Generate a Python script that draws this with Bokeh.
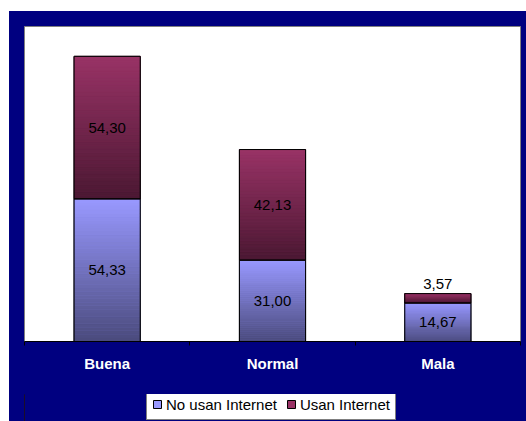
import numpy as np
from bokeh.plotting import figure
from bokeh.layouts import column, row
from bokeh.models import Range1d, FixedTicker, Legend, LegendItem, ColumnDataSource, Spacer
from bokeh.core.properties import value
from bokeh.embed import file_html
from bokeh.resources import INLINE

# ---- data ----
categories = ["Buena", "Normal", "Mala"]
no_usan = [54.33, 31.00, 14.67]
usan = [54.30, 42.13, 3.57]
series_names = ["No usan Internet", "Usan Internet"]
series_colors = ["#9999ff", "#993366"]
series_dark = ["#4a4a7c", "#4a1832"]
y_max = 120

FONT = "Liberation Sans"
NAVY = "#000080"
BAR_W = 0.4

p = figure(width=517, height=383, output_backend="svg", toolbar_location=None,
           x_range=Range1d(0, len(categories)), y_range=Range1d(0, y_max),
           y_axis_location=None,
           min_border_left=15, min_border_right=6, min_border_top=15, min_border_bottom=53)
p.border_fill_color = NAVY
p.background_fill_color = "white"
p.outline_line_color = "#808080"
p.outline_line_width = 1
p.grid.visible = False
p.styles = {"background-color": NAVY}

xs = [i + 0.5 for i in range(len(categories))]
src = ColumnDataSource(dict(x=xs, no_usan=no_usan, usan=usan))

# base bars
p.vbar_stack(["no_usan", "usan"], x="x", width=BAR_W, source=src,
             fill_color=series_colors, line_color="black")


def hex2rgb(h):
    h = h.lstrip("#")
    return np.array([int(h[i:i + 2], 16) for i in (0, 2, 4)], dtype=float)


def rgb2hex(c):
    return "#%02x%02x%02x" % tuple(int(round(v)) for v in c)


# gradient slices (each stacked segment shades from its colour at the top to dark at the bottom)
N = 40
L, R, B, T, C = [], [], [], [], []
series = [no_usan, usan]
for i, xc in enumerate(xs):
    bottom = 0.0
    for s, vals in enumerate(series):
        top = bottom + vals[i]
        c_top = hex2rgb(series_colors[s])
        c_bot = hex2rgb(series_dark[s])
        for k in range(N):
            y0 = bottom + (top - bottom) * k / N
            y1 = bottom + (top - bottom) * (k + 1) / N
            f = (k + 0.5) / N
            col = c_bot + (c_top - c_bot) * f
            L.append(xc - BAR_W / 2)
            R.append(xc + BAR_W / 2)
            B.append(y0)
            T.append(y1)
            C.append(rgb2hex(col))
        bottom = top
p.quad(left=L, right=R, bottom=B, top=T, fill_color=C, line_color=C, line_width=0.6)

# outlines on top
p.vbar_stack(["no_usan", "usan"], x="x", width=BAR_W, source=src,
             fill_alpha=0, line_color="black", line_width=1)

# data labels
lx, ly, lt, loff = [], [], [], []
for i, xc in enumerate(xs):
    bottom = 0.0
    for s, vals in enumerate(series):
        v = vals[i]
        top = bottom + v
        txt = f"{v:.2f}".replace(".", ",")
        if v < 6:
            lx.append(xc); ly.append(top); loff.append(-10)
        else:
            lx.append(xc); ly.append((bottom + top) / 2); loff.append(0)
        lt.append(txt)
        bottom = top
lsrc = ColumnDataSource(dict(x=lx, y=ly, t=lt, off=loff))
p.text(x="x", y="y", text="t", y_offset="off", source=lsrc,
       text_align="center", text_baseline="middle",
       text_font=value(FONT), text_font_size="15px", text_color="black")

# x axis: ticks at category boundaries, labels at centres
ax = p.xaxis[0]
ax.ticker = FixedTicker(ticks=xs, minor_ticks=list(range(len(categories) + 1)))
ax.major_label_overrides = {x: c for x, c in zip(xs, categories)}
ax.major_tick_line_color = None
ax.major_tick_out = 0
ax.major_tick_in = 0
ax.minor_tick_line_color = "black"
ax.minor_tick_out = 4
ax.minor_tick_in = 0
ax.axis_line_color = "black"
ax.major_label_standoff = 9
ax.major_label_text_font = FONT
ax.major_label_text_font_style = "bold"
ax.major_label_text_font_size = "15px"
ax.major_label_text_color = "white"

# legend strip
lg = figure(width=517, height=27, output_backend="svg", toolbar_location=None,
            x_range=Range1d(0, 1), y_range=Range1d(0, 1),
            x_axis_location=None, y_axis_location=None,
            min_border_left=0, min_border_right=0, min_border_top=0, min_border_bottom=0)
lg.border_fill_color = None
lg.background_fill_color = None
lg.outline_line_color = None
lg.grid.visible = False
lg.styles = {"background-color": NAVY}
# legend-key renderers: one point each, placed outside the visible range
leg_r = [lg.vbar(x=[-5], top=[1], width=0.1, fill_color=series_colors[j], line_color="black")
         for j in range(2)]
legend = Legend(items=[LegendItem(label=series_names[j], renderers=[leg_r[j]]) for j in range(2)],
                location=(122, 1), orientation="horizontal",
                background_fill_color="white", background_fill_alpha=1,
                border_line_color="black", border_line_width=1,
                label_text_font=FONT, label_text_font_size="15px", label_text_color="black",
                glyph_width=10, glyph_height=10, label_standoff=4, spacing=9,
                padding=5, margin=0, label_height=20)
lg.add_layout(legend)

inner = column(p, lg, styles={"background-color": NAVY})
layout = column(Spacer(height=11), row(Spacer(width=9), inner))
open("out.html", "w").write(file_html(layout, INLINE))
